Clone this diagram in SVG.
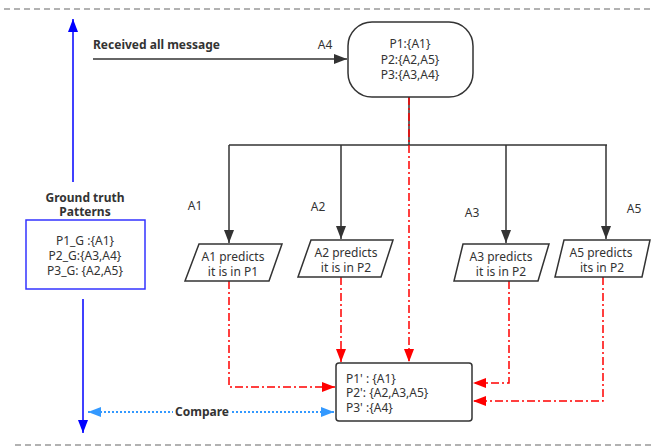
<svg xmlns="http://www.w3.org/2000/svg" width="655" height="447" viewBox="0 0 655 447">
<defs>
<style>
text{font-family:"Noto Sans","Open Sans","DejaVu Sans",sans-serif;font-size:12px;fill:#333;}
.b{font-weight:bold;}
.c{text-anchor:middle;}
.sep{stroke:#666;stroke-width:1.2;stroke-dasharray:6,4;fill:none;}
.node{fill:#fff;stroke:#333;stroke-width:1.5;}
.gt{fill:#fff;stroke:#3333ff;stroke-width:1.5;}
.blk{stroke:#333;stroke-width:1.5;fill:none;}
.red{stroke:#ff0000;stroke-width:1.5;fill:none;stroke-dasharray:8,3,2,3;}
.blue{stroke:#0000ff;stroke-width:1.5;fill:none;}
.cmp{stroke:#3399ff;stroke-width:2;fill:none;stroke-dasharray:2,2;}
</style>
<marker id="ab" markerUnits="userSpaceOnUse" markerWidth="14" markerHeight="10" refX="13" refY="5" orient="auto"><path d="M0,0 L13,5 L0,10 Z" fill="#333"/></marker>
<marker id="ar" markerUnits="userSpaceOnUse" markerWidth="14" markerHeight="10" refX="13" refY="5" orient="auto"><path d="M0,0 L13,5 L0,10 Z" fill="#ff0000"/></marker>
<marker id="abl" markerUnits="userSpaceOnUse" markerWidth="14" markerHeight="10" refX="13" refY="5" orient="auto"><path d="M0,0 L13,5 L0,10 Z" fill="#0000ff"/></marker>
<marker id="ac" markerUnits="userSpaceOnUse" markerWidth="14" markerHeight="10" refX="13" refY="5" orient="auto"><path d="M0,0 L13,5 L0,10 Z" fill="#3399ff"/></marker>
<marker id="acs" markerUnits="userSpaceOnUse" markerWidth="14" markerHeight="10" refX="0" refY="5" orient="auto"><path d="M13,0 L0,5 L13,10 Z" fill="#3399ff"/></marker>
</defs>

<line class="sep" x1="4" y1="9" x2="652" y2="9"/>
<line class="sep" x1="15" y1="445" x2="652" y2="445"/>

<g id="connectors">
<line class="blk" x1="93" y1="59" x2="347" y2="59" marker-end="url(#ab)"/>
<line class="blk" x1="409" y1="97" x2="409" y2="145"/>
<line class="blk" x1="229" y1="145" x2="607" y2="145"/>
<line class="blk" x1="229" y1="145" x2="229" y2="243" marker-end="url(#ab)"/>
<line class="blk" x1="341" y1="145" x2="341" y2="239" marker-end="url(#ab)"/>
<line class="blk" x1="506" y1="145" x2="506" y2="243" marker-end="url(#ab)"/>
<line class="blk" x1="606" y1="145" x2="606" y2="239" marker-end="url(#ab)"/>
<path class="red" d="M229,281 V387 H335" marker-end="url(#ar)"/>
<path class="red" d="M341,277 V362" marker-end="url(#ar)"/>
<path class="red" d="M409,97 V362" marker-end="url(#ar)"/>
<path class="red" d="M509,281 V383 H473" marker-end="url(#ar)"/>
<path class="red" d="M603,277 V401 H473" marker-end="url(#ar)"/>
<line class="blue" x1="73" y1="182" x2="73" y2="19" marker-end="url(#abl)"/>
<line class="blue" x1="83" y1="299" x2="83" y2="433" marker-end="url(#abl)"/>
<line class="cmp" x1="88" y1="412" x2="173" y2="412" marker-start="url(#acs)"/>
<line class="cmp" x1="232" y1="412" x2="334" y2="412" marker-end="url(#ac)"/>
<text class="b c" x="202" y="416">Compare</text>
<text class="b" x="93" y="49">Received all message</text>
<text class="c" x="325" y="49">A4</text>
<text class="c" x="195" y="210">A1</text>
<text class="c" x="318" y="211">A2</text>
<text class="c" x="472" y="217">A3</text>
<text class="c" x="634" y="213">A5</text>
</g>

<g id="gt-title">
<text class="b c" x="85" y="202">Ground truth</text>
<text class="b c" x="85" y="216">Patterns</text>
</g>

<g id="ground-truth">
<rect class="gt" x="26" y="220" width="119" height="69"/>
<text class="c" x="85" y="245">P1_G :{A1}</text>
<text class="c" x="85" y="260">P2_G:{A3,A4}</text>
<text class="c" x="85" y="275">P3_G: {A2,A5}</text>
</g>

<g id="patterns">
<rect class="node" x="348" y="22" width="125" height="75" rx="24" ry="24"/>
<text class="c" x="410" y="48">P1:{A1}</text>
<text class="c" x="410" y="64">P2:{A2,A5}</text>
<text class="c" x="410" y="79">P3:{A3,A4}</text>
</g>

<g id="a1">
<polygon class="node" points="199,244 282,244 269,281 185,281"/>
<text class="c" x="233" y="261">A1 predicts</text>
<text class="c" x="233" y="276">it is in P1</text>
</g>

<g id="a2">
<polygon class="node" points="311,240 393,240 381,277 298,277"/>
<text class="c" x="346" y="257">A2 predicts</text>
<text class="c" x="346" y="272">it is in P2</text>
</g>

<g id="a3">
<polygon class="node" points="463,244 549,244 538,281 454,281"/>
<text class="c" x="501" y="261">A3 predicts</text>
<text class="c" x="501" y="276">it is in P2</text>
</g>

<g id="a5">
<polygon class="node" points="564,240 650,240 642,277 555,277"/>
<text class="c" x="601" y="257">A5 predicts</text>
<text class="c" x="602" y="272">its in P2</text>
</g>

<g id="result">
<rect class="node" x="336" y="363" width="136" height="58" rx="3" ry="3"/>
<text x="346" y="383">P1' : {A1}</text>
<text x="346" y="397">P2': {A2,A3,A5}</text>
<text x="346" y="412">P3' :{A4}</text>
</g>
</svg>
